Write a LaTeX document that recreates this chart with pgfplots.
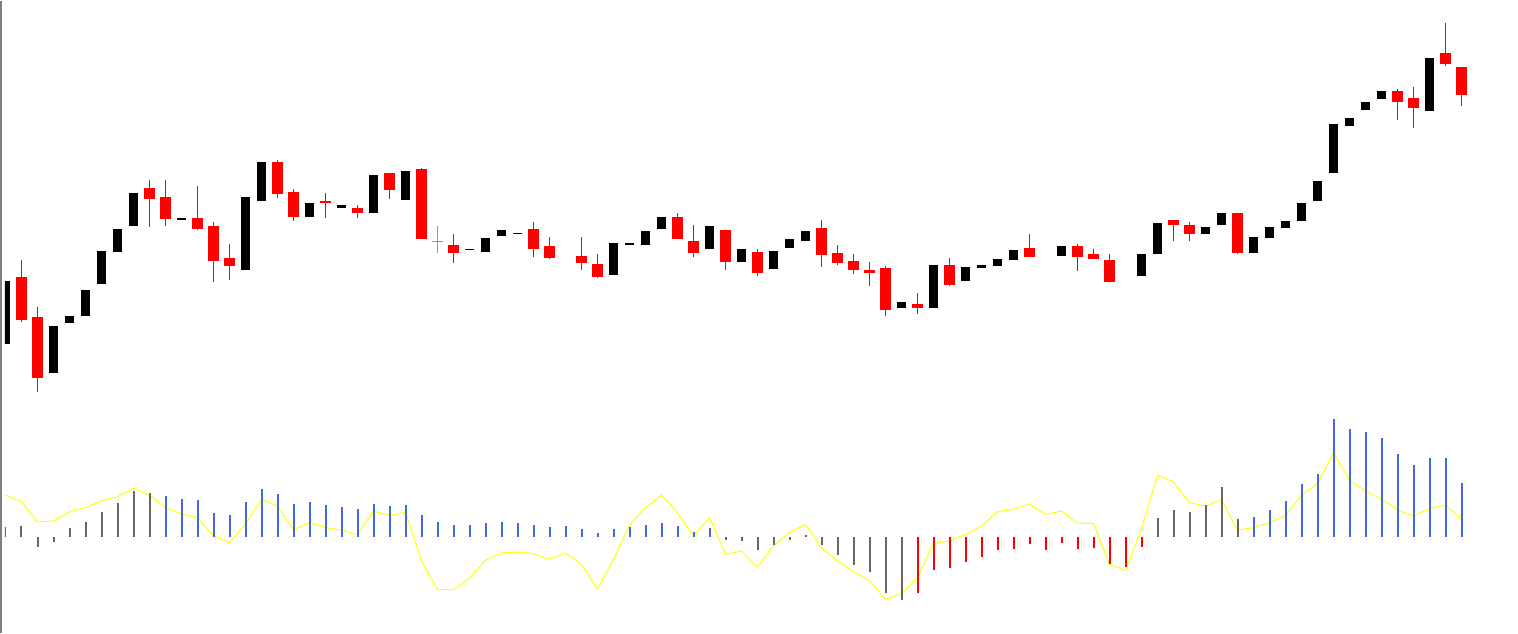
\documentclass[border=0pt]{standalone}
\usepackage{pgfplots}
\usepackage{pgfplotstable}
\pgfplotsset{compat=1.18}
\definecolor{candleRed}{HTML}{FF0000}
\definecolor{candleGreen}{HTML}{00FF00}
\definecolor{histBlue}{HTML}{4169E1}
\definecolor{histGray}{HTML}{666666}
\definecolor{sigYellow}{HTML}{FFFF00}

% all values are screen rows (y grows downwards), x is the bar centre
% red candles: body top/bottom, wick top/bottom
\pgfplotstableread{
x bt bb wt wb
21.5 276 318.7 259 320.7
37.5 316 376.7 306 390.7
149.5 187 197.7 179 225.7
165.5 196 217.7 179 224.7
197.5 217 227.7 185 228.7
213.5 225 259.7 221 280.7
229.5 257 264.7 243 278.7
277.5 161 192.7 159 196.7
293.5 191 215.7 188 219.7
325.5 200 201.7 192 216.7
357.5 207 211.7 204 216.7
389.5 172 188.7 172 197.7
421.5 168 237.7 167 237.7
453.5 244 251.7 233 261.7
533.5 228 247.7 221 255.7
549.5 245 256.7 236 257.7
581.5 255 261.7 236 268.7
597.5 263 275.7 253 276.7
677.5 216 237.7 212 237.7
693.5 240 251.7 224 255.7
725.5 229 260.7 229 268.7
757.5 251 271.7 248 274.7
821.5 227 253.7 219 265.7
837.5 252 261.7 244 263.7
853.5 260 268.7 253 272.7
869.5 269 271.7 261 284.7
885.5 267 308.7 265 314.7
917.5 303 306.7 292 312.7
949.5 264 283.7 257 284.7
1029.5 247 255.7 233 255.7
1077.5 245 255.7 243 269.7
1093.5 253 257.7 248 257.7
1109.5 259 280.7 253 280.7
1173.5 219 223.7 219 239.7
1189.5 224 232.7 221 239.7
1237.5 212 251.7 212 252.7
1397.5 90 100.7 88 118.7
1413.5 97 106.7 86 126.7
1445.5 52 62.7 22 64.7
1461.5 66 93.7 66 104.7
}\redtab

% black candles: body only (up wicks are white)
\pgfplotstableread{
x bt bb
5.5 280 342.7
53.5 325 371.7
69.5 315 322
85.5 289 314.7
101.5 250 282.7
117.5 228 250.7
133.5 192 224.7
181.5 217 219
245.5 196 268.7
261.5 161 200
309.5 202 215.7
341.5 204 206.7
373.5 174 211.7
405.5 170 198.7
469.5 247.5 249
485.5 237 250.7
501.5 229 234.7
517.5 231.5 233
613.5 242 273.7
629.5 242 243.7
645.5 230 243.7
661.5 216 227.7
709.5 225 247.7
741.5 248 260.7
773.5 250 267.7
789.5 238 246.7
805.5 230 239.7
901.5 301 306.7
933.5 264 306.7
965.5 266 279.7
981.5 264 266.7
997.5 258 264.7
1013.5 249 258.7
1061.5 245 254.7
1141.5 253 274.7
1157.5 222 252.7
1205.5 226 232.7
1221.5 212 223.7
1253.5 236 251.7
1269.5 226 236.7
1285.5 220 226.7
1301.5 202 219.7
1317.5 180 199.7
1333.5 123 171.7
1349.5 117 124.7
1365.5 101 108.7
1381.5 90 97.7
1429.5 57 109.7
}\blacktab

\pgfplotstableread{
x bt bb wt wb
437.5 239.5 240.5 225 251.7
}\greentab

% histogram, zero line at row 536
\pgfplotstableread{
x v
5.5 526
21.5 525
37.5 546
53.5 541
69.5 527
85.5 521
101.5 511
117.5 502
133.5 490
149.5 492
725.5 539
741.5 540
757.5 549
773.5 544
789.5 539
805.5 534
821.5 544
837.5 554
853.5 564
869.5 571
885.5 591.7
901.5 598.7
1157.5 517
1173.5 509
1189.5 511
1205.5 504
1221.5 486
1237.5 518
}\graytab

\pgfplotstableread{
x v
165.5 495
181.5 498
197.5 499
213.5 512
229.5 514
245.5 501
261.5 488
277.5 493
293.5 503
309.5 501
325.5 504
341.5 506
357.5 508
373.5 503
389.5 505
405.5 504
421.5 514
437.5 521
453.5 524
469.5 524
485.5 522
501.5 521
517.5 522
533.5 524
549.5 526
565.5 525
581.5 528
597.5 532
613.5 528
629.5 526
645.5 524
661.5 522
677.5 525
693.5 531
709.5 527
1253.5 516
1269.5 509
1285.5 500
1301.5 483
1317.5 473
1333.5 418
1349.5 428
1365.5 431
1381.5 437
1397.5 453
1413.5 464
1429.5 457
1445.5 457
1461.5 482
}\bluetab

\pgfplotstableread{
x v
917.5 591.7
933.5 568.7
949.5 567
965.5 560.7
981.5 555.7
997.5 548.7
1013.5 547.7
1029.5 542.7
1045.5 548.7
1061.5 541.7
1077.5 547.7
1093.5 546.7
1109.5 562.7
1125.5 565.7
1141.5 546
}\histredtab

\pgfplotstableread{
x v
5.5 494
21.5 500.7
37.5 521
53.5 520
69.5 511
85.5 506.7
101.5 500
117.5 495.7
133.5 487.3
149.5 494
165.5 506.7
181.5 512.7
197.5 516.7
213.5 535
229.5 541.7
245.5 523
261.5 498.7
277.5 505
293.5 528.7
309.5 521.3
325.5 526.7
341.5 529
357.5 533.3
373.5 510
389.5 514.3
405.5 511.3
421.5 560
437.5 588.7
453.5 588.7
469.5 577.3
485.5 559.3
501.5 552
517.5 551
533.5 552.7
549.5 558.3
565.5 552
581.5 563.3
597.5 588
613.5 558.3
629.5 524
645.5 506.7
661.5 494
677.5 511.7
693.5 535
709.5 516.3
725.5 553.3
741.5 550
757.5 566
773.5 545
789.5 531.7
805.5 523.3
821.5 546.7
837.5 560
853.5 570.7
869.5 579.3
885.5 598.3
901.5 592.7
917.5 576.7
933.5 542.7
949.5 540
965.5 533.3
981.5 525
997.5 510.7
1013.5 508.3
1029.5 503.3
1045.5 513.3
1061.5 510
1077.5 522.3
1093.5 522.3
1109.5 563.3
1125.5 569.3
1141.5 528
1157.5 474
1173.5 481
1189.5 501.7
1205.5 505
1221.5 498.7
1237.5 529
1253.5 526.7
1269.5 521.7
1285.5 514.3
1301.5 494.3
1317.5 482.7
1333.5 451.7
1349.5 479
1365.5 490
1381.5 498.3
1397.5 509
1413.5 515
1429.5 507.7
1445.5 504
1461.5 518.3
}\sigtab

\pgfplotsset{
  seg/.style n args={2}{draw=none, mark=none, forget plot,
    error bars/.cd, y dir=both, y explicit, error mark=none,
    error bar style={line width=#1, draw=#2}},
}

\begin{document}
\begin{tikzpicture}
\begin{axis}[name=main, hide axis, scale only axis,
  width=1513pt, height=632pt,
  xmin=5, xmax=1518, ymin=0, ymax=632, y dir=reverse]

% wicks
\addplot[seg={1pt}{candleRed}] table[x=x, y expr={(\thisrow{wt}+\thisrow{wb})/2}, y error expr={(\thisrow{wb}-\thisrow{wt})/2}] {\redtab};
\addplot[seg={1pt}{candleGreen}] table[x=x, y expr={(\thisrow{wt}+\thisrow{wb})/2}, y error expr={(\thisrow{wb}-\thisrow{wt})/2}] {\greentab};
% bodies
\addplot[seg={11pt}{candleRed}] table[x=x, y expr={(\thisrow{bt}+\thisrow{bb})/2}, y error expr={(\thisrow{bb}-\thisrow{bt})/2}] {\redtab};
\addplot[seg={9pt}{black}] table[x=x, y expr={(\thisrow{bt}+\thisrow{bb})/2}, y error expr={(\thisrow{bb}-\thisrow{bt})/2}] {\blacktab};
\addplot[seg={11pt}{candleGreen}] table[x=x, y expr={(\thisrow{bt}+\thisrow{bb})/2}, y error expr={(\thisrow{bb}-\thisrow{bt})/2}] {\greentab};

% signal line under the histogram
\addplot[sigYellow, line width=1pt, mark=none, forget plot] table[x=x, y=v] {\sigtab};

% histogram
\addplot[seg={2pt}{histGray}] table[x=x, y expr={(\thisrow{v}+536)/2}, y error expr={abs(\thisrow{v}-536)/2}] {\graytab};
\addplot[seg={2pt}{histBlue}] table[x=x, y expr={(\thisrow{v}+536)/2}, y error expr={abs(\thisrow{v}-536)/2}] {\bluetab};
\addplot[seg={2pt}{candleRed}] table[x=x, y expr={(\thisrow{v}+536)/2}, y error expr={abs(\thisrow{v}-536)/2}] {\histredtab};
\end{axis}
\draw[gray, line width=2pt] ([xshift=-4pt]main.south west) -- ([xshift=-4pt]main.north west);
\useasboundingbox ([xshift=-5pt]main.south west) rectangle (main.north east);
\end{tikzpicture}
\end{document}
